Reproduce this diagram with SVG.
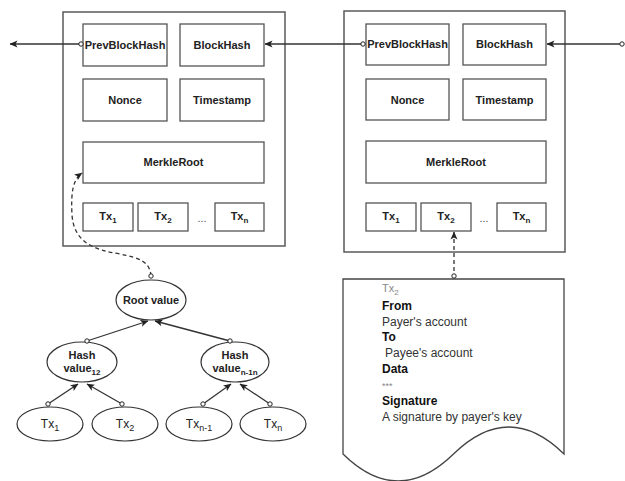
<svg xmlns="http://www.w3.org/2000/svg" width="625" height="481" viewBox="0 0 625 481">
<style>
.blk{fill:#fff;stroke:#5a5a5a;stroke-width:1.5}
.box{fill:#fff;stroke:#555;stroke-width:1.3}
.lbl{font-family:"Liberation Sans",Arial,sans-serif;font-size:11px;font-weight:bold;fill:#222;text-anchor:middle}
.ell{fill:#fff;stroke:#333;stroke-width:1.2}
.leaf{font-family:"Liberation Sans",Arial,sans-serif;font-size:12px;fill:#222;text-anchor:middle}
.edge{fill:none;stroke:#333;stroke-width:1.3}
.dash{fill:none;stroke:#333;stroke-width:1.3;stroke-dasharray:4 3}
.doc{font-family:"Liberation Sans",Arial,sans-serif;font-size:12px;fill:#333}
.b{font-weight:bold;fill:#111}
.dots{font-family:"Liberation Sans",Arial,sans-serif;font-size:11px;fill:#555;text-anchor:middle}
</style>
<defs>
<marker id="arr" viewBox="0 0 8 8" refX="7.5" refY="4" markerWidth="8" markerHeight="8" markerUnits="userSpaceOnUse" orient="auto-start-reverse">
<path d="M0,0.5 L8,4 L0,7.5 L2,4 z" fill="#222"/>
</marker>
<marker id="dot" viewBox="0 0 6 6" refX="3" refY="3" markerWidth="6" markerHeight="6" markerUnits="userSpaceOnUse">
<circle cx="3" cy="3" r="2.2" fill="#fff" stroke="#222" stroke-width="1"/>
</marker>
</defs>

<g id="block-left">
<rect class="blk" x="63" y="12" width="222" height="234"/>
<g id="l-prev"><rect class="box" x="83" y="24" width="84" height="42"/><text class="lbl" x="125" y="49">PrevBlockHash</text></g>
<g id="l-hash"><rect class="box" x="180" y="24" width="84" height="42"/><text class="lbl" x="222" y="49">BlockHash</text></g>
<g id="l-nonce"><rect class="box" x="83" y="79" width="84" height="42"/><text class="lbl" x="125" y="104">Nonce</text></g>
<g id="l-time"><rect class="box" x="180" y="79" width="84" height="42"/><text class="lbl" x="222" y="104">Timestamp</text></g>
<g id="l-merkle"><rect class="box" x="83" y="142" width="181" height="41"/><text class="lbl" x="173.5" y="166">MerkleRoot</text></g>
<g id="l-tx1"><rect class="box" x="83" y="203" width="50" height="28"/><text class="lbl" x="108" y="220">Tx<tspan font-size="8" dy="3">1</tspan></text></g>
<g id="l-tx2"><rect class="box" x="138" y="203" width="50" height="28"/><text class="lbl" x="163" y="220">Tx<tspan font-size="8" dy="3">2</tspan></text></g>
<text class="dots" x="202" y="222">...</text>
<g id="l-txn"><rect class="box" x="215" y="203" width="49" height="28"/><text class="lbl" x="239.5" y="220">Tx<tspan font-size="8" dy="3">n</tspan></text></g>
</g>

<g id="block-right">
<rect class="blk" x="344" y="11" width="221" height="241"/>
<g id="r-prev"><rect class="box" x="366" y="24" width="83" height="41"/><text class="lbl" x="407.5" y="48">PrevBlockHash</text></g>
<g id="r-hash"><rect class="box" x="463" y="24" width="83" height="41"/><text class="lbl" x="504.5" y="48">BlockHash</text></g>
<g id="r-nonce"><rect class="box" x="366" y="79" width="83" height="41"/><text class="lbl" x="407.5" y="104">Nonce</text></g>
<g id="r-time"><rect class="box" x="463" y="79" width="83" height="41"/><text class="lbl" x="504.5" y="104">Timestamp</text></g>
<g id="r-merkle"><rect class="box" x="366" y="141" width="180" height="42"/><text class="lbl" x="456" y="166">MerkleRoot</text></g>
<g id="r-tx1"><rect class="box" x="366" y="203" width="50" height="28"/><text class="lbl" x="391" y="220">Tx<tspan font-size="8" dy="3">1</tspan></text></g>
<g id="r-tx2"><rect class="box" x="421" y="203" width="50" height="28"/><text class="lbl" x="446" y="220">Tx<tspan font-size="8" dy="3">2</tspan></text></g>
<text class="dots" x="484" y="222">...</text>
<g id="r-txn"><rect class="box" x="497" y="203" width="49" height="28"/><text class="lbl" x="521.5" y="220">Tx<tspan font-size="8" dy="3">n</tspan></text></g>
</g>

<g id="tx-document">
<path d="M343,279 H564 V454 Q509,400 453.5,454 Q398,508 343,454 Z" fill="#fff" stroke="#444" stroke-width="1.3"/>
<text class="doc" x="382" y="292" style="fill:#888;font-size:11px">Tx<tspan font-size="8" dy="3">2</tspan></text>
<text class="doc b" x="382" y="310">From</text>
<text class="doc" x="382" y="326">Payer's account</text>
<text class="doc b" x="382" y="341">To</text>
<text class="doc" x="385" y="357">Payee's account</text>
<text class="doc b" x="382" y="373">Data</text>
<text class="doc" x="382" y="389" style="font-size:9px;fill:#888">***</text>
<text class="doc b" x="382" y="405">Signature</text>
<text class="doc" x="382" y="421">A signature by payer's key</text>
</g>

<g id="root"><ellipse class="ell" cx="151" cy="300" rx="35" ry="20"/><text class="lbl" x="151" y="304">Root value</text></g>
<g id="hash12"><ellipse class="ell" cx="82" cy="362" rx="35" ry="20"/><text class="lbl" x="82" y="359">Hash</text><text class="lbl" x="82" y="372">value<tspan font-size="8" dy="3">12</tspan></text></g>
<g id="hashn"><ellipse class="ell" cx="235" cy="362" rx="34" ry="20"/><text class="lbl" x="235" y="359">Hash</text><text class="lbl" x="235" y="372">value<tspan font-size="8" dy="3">n-1n</tspan></text></g>
<g id="leaf-tx1"><ellipse class="ell" cx="50" cy="424" rx="33" ry="17"/><text class="leaf" x="50" y="428">Tx<tspan font-size="9" dy="3">1</tspan></text></g>
<g id="leaf-tx2"><ellipse class="ell" cx="125" cy="424" rx="33" ry="17"/><text class="leaf" x="125" y="428">Tx<tspan font-size="9" dy="3">2</tspan></text></g>
<g id="leaf-txn1"><ellipse class="ell" cx="199" cy="424" rx="33" ry="17"/><text class="leaf" x="199" y="428">Tx<tspan font-size="9" dy="3">n-1</tspan></text></g>
<g id="leaf-txn"><ellipse class="ell" cx="273" cy="424" rx="33" ry="17"/><text class="leaf" x="273" y="428">Tx<tspan font-size="9" dy="3">n</tspan></text></g>

<g id="connectors">
<line class="edge" x1="81" y1="44" x2="10" y2="44" marker-start="url(#dot)" marker-end="url(#arr)"/>
<line class="edge" x1="363" y1="44" x2="265" y2="44" marker-start="url(#dot)" marker-end="url(#arr)"/>
<line class="edge" x1="622" y1="44" x2="547" y2="44" marker-start="url(#dot)" marker-end="url(#arr)"/>
<path class="dash" d="M151,276 C150,262 140,258 120,254 C95,250 74,243 72,215 C71,195 72,180 82,173" marker-start="url(#dot)" marker-end="url(#arr)"/>
<line class="dash" x1="454" y1="232" x2="454" y2="276" marker-start="url(#arr)" marker-end="url(#dot)"/>
<line class="edge" x1="87" y1="341" x2="148" y2="321" marker-start="url(#dot)" marker-end="url(#arr)"/>
<line class="edge" x1="230" y1="341" x2="155" y2="321" marker-start="url(#dot)" marker-end="url(#arr)"/>
<line class="edge" x1="48" y1="404" x2="78" y2="384" marker-start="url(#dot)" marker-end="url(#arr)"/>
<line class="edge" x1="122" y1="404" x2="87" y2="384" marker-start="url(#dot)" marker-end="url(#arr)"/>
<line class="edge" x1="203" y1="404" x2="231" y2="384" marker-start="url(#dot)" marker-end="url(#arr)"/>
<line class="edge" x1="270" y1="404" x2="240" y2="384" marker-start="url(#dot)" marker-end="url(#arr)"/>
</g>
</svg>
